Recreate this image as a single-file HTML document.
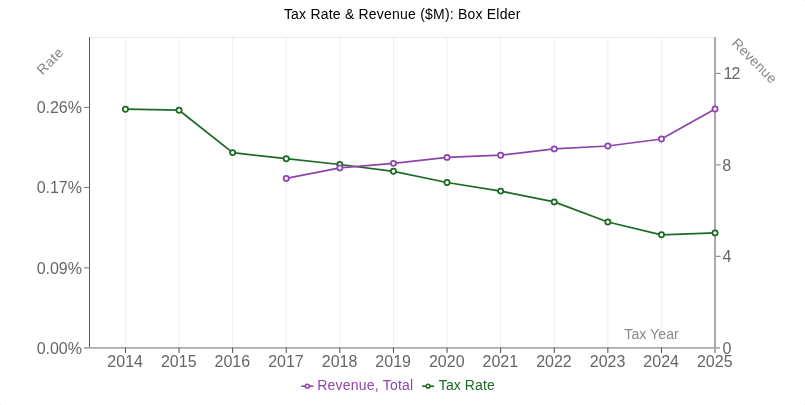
<!DOCTYPE html><html><head><meta charset="utf-8"><title>Tax Rate &amp; Revenue</title>
<style>html,body{margin:0;padding:0;background:#fff}svg{display:block}text{font-family:"Liberation Sans",Arial,sans-serif}</style></head><body>
<svg width="805" height="405" viewBox="0 0 805 405">
<rect width="805" height="405" fill="#fff"/>
<g fill="#f1f1f1"><rect x="0" y="0" width="1" height="1"/><rect x="804" y="0" width="1" height="1"/><rect x="0" y="404" width="1" height="1"/><rect x="804" y="404" width="1" height="1"/></g>
<g stroke="#eeeeee" stroke-width="1">
<line x1="125.45" y1="37.5" x2="125.45" y2="347.9"/>
<line x1="179.05" y1="37.5" x2="179.05" y2="347.9"/>
<line x1="232.65" y1="37.5" x2="232.65" y2="347.9"/>
<line x1="286.25" y1="37.5" x2="286.25" y2="347.9"/>
<line x1="339.85" y1="37.5" x2="339.85" y2="347.9"/>
<line x1="393.45" y1="37.5" x2="393.45" y2="347.9"/>
<line x1="447.05" y1="37.5" x2="447.05" y2="347.9"/>
<line x1="500.65" y1="37.5" x2="500.65" y2="347.9"/>
<line x1="554.25" y1="37.5" x2="554.25" y2="347.9"/>
<line x1="607.85" y1="37.5" x2="607.85" y2="347.9"/>
<line x1="661.45" y1="37.5" x2="661.45" y2="347.9"/>
<line x1="715.05" y1="37.5" x2="715.05" y2="347.9"/>
<line x1="89.5" y1="37.5" x2="715" y2="37.5" stroke="#ebebeb"/>
</g>
<line x1="89.5" y1="37.3" x2="89.5" y2="347.9" stroke="#575757" stroke-width="1"/>
<line x1="715" y1="37.3" x2="715" y2="352.9" stroke="#aaa" stroke-width="2"/>
<line x1="84.0" y1="347.9" x2="720" y2="347.9" stroke="#aaa" stroke-width="1.7"/>
<g stroke="#777" stroke-width="1">
<line x1="84.0" y1="107.4" x2="89.5" y2="107.4"/>
<line x1="84.0" y1="187.5" x2="89.5" y2="187.5"/>
<line x1="84.0" y1="267.8" x2="89.5" y2="267.8"/>
<line x1="716" y1="73.4" x2="720.5" y2="73.4"/>
<line x1="716" y1="164.9" x2="720.5" y2="164.9"/>
<line x1="716" y1="256.3" x2="720.5" y2="256.3"/>
</g>
<g stroke="#444" stroke-width="1">
<line x1="125.45" y1="347.9" x2="125.45" y2="352.9"/>
<line x1="179.05" y1="347.9" x2="179.05" y2="352.9"/>
<line x1="232.65" y1="347.9" x2="232.65" y2="352.9"/>
<line x1="286.25" y1="347.9" x2="286.25" y2="352.9"/>
<line x1="339.85" y1="347.9" x2="339.85" y2="352.9"/>
<line x1="393.45" y1="347.9" x2="393.45" y2="352.9"/>
<line x1="447.05" y1="347.9" x2="447.05" y2="352.9"/>
<line x1="500.65" y1="347.9" x2="500.65" y2="352.9"/>
<line x1="554.25" y1="347.9" x2="554.25" y2="352.9"/>
<line x1="607.85" y1="347.9" x2="607.85" y2="352.9"/>
<line x1="661.45" y1="347.9" x2="661.45" y2="352.9"/>
</g>
<g font-size="16" fill="#666">
<text x="82" y="113" text-anchor="end">0.26%</text>
<text x="82" y="193" text-anchor="end">0.17%</text>
<text x="82" y="274" text-anchor="end">0.09%</text>
<text x="82" y="354" text-anchor="end">0.00%</text>
<text x="723.4" y="79" textLength="17.0" lengthAdjust="spacing">12</text>
<text x="722.3" y="171">8</text>
<text x="722.4" y="262">4</text>
<text x="722.4" y="354">0</text>
<text x="125.15" y="367" text-anchor="middle">2014</text>
<text x="178.75" y="367" text-anchor="middle">2015</text>
<text x="232.35" y="367" text-anchor="middle">2016</text>
<text x="285.95" y="367" text-anchor="middle">2017</text>
<text x="339.55" y="367" text-anchor="middle">2018</text>
<text x="393.15" y="367" text-anchor="middle">2019</text>
<text x="446.75" y="367" text-anchor="middle">2020</text>
<text x="500.35" y="367" text-anchor="middle">2021</text>
<text x="553.95" y="367" text-anchor="middle">2022</text>
<text x="607.55" y="367" text-anchor="middle">2023</text>
<text x="661.15" y="367" text-anchor="middle">2024</text>
<text x="714.75" y="367" text-anchor="middle">2025</text>
</g>
<g font-size="14" fill="#888">
<text transform="translate(42.4,75.4) rotate(-45)" textLength="31.1" lengthAdjust="spacing">Rate</text>
<text transform="translate(730.9,43.9) rotate(45)" textLength="57.1" lengthAdjust="spacing">Revenue</text>
<text x="624.3" y="338.8" textLength="54.4" lengthAdjust="spacing">Tax Year</text>
</g>
<text x="402.1" y="18.7" font-size="14" fill="#000" text-anchor="middle" textLength="236.4" lengthAdjust="spacing">Tax Rate &amp; Revenue ($M): Box Elder</text>
<polyline fill="none" stroke="#1b6b24" stroke-width="1.75" stroke-linejoin="round" points="125.45,109.15 179.05,110.20 232.65,152.60 286.25,158.70 339.85,164.50 393.45,171.30 447.05,182.50 500.65,191.10 554.25,201.90 607.85,222.00 661.45,234.80 715.05,232.90"/>
<circle cx="125.45" cy="109.15" r="2.6" fill="#fff" stroke="#1b6b24" stroke-width="1.75"/>
<circle cx="179.05" cy="110.20" r="2.6" fill="#fff" stroke="#1b6b24" stroke-width="1.75"/>
<circle cx="232.65" cy="152.60" r="2.6" fill="#fff" stroke="#1b6b24" stroke-width="1.75"/>
<circle cx="286.25" cy="158.70" r="2.6" fill="#fff" stroke="#1b6b24" stroke-width="1.75"/>
<circle cx="339.85" cy="164.50" r="2.6" fill="#fff" stroke="#1b6b24" stroke-width="1.75"/>
<circle cx="393.45" cy="171.30" r="2.6" fill="#fff" stroke="#1b6b24" stroke-width="1.75"/>
<circle cx="447.05" cy="182.50" r="2.6" fill="#fff" stroke="#1b6b24" stroke-width="1.75"/>
<circle cx="500.65" cy="191.10" r="2.6" fill="#fff" stroke="#1b6b24" stroke-width="1.75"/>
<circle cx="554.25" cy="201.90" r="2.6" fill="#fff" stroke="#1b6b24" stroke-width="1.75"/>
<circle cx="607.85" cy="222.00" r="2.6" fill="#fff" stroke="#1b6b24" stroke-width="1.75"/>
<circle cx="661.45" cy="234.80" r="2.6" fill="#fff" stroke="#1b6b24" stroke-width="1.75"/>
<circle cx="715.05" cy="232.90" r="2.6" fill="#fff" stroke="#1b6b24" stroke-width="1.75"/>
<polyline fill="none" stroke="#8e44ad" stroke-width="1.75" stroke-linejoin="round" points="286.25,178.40 339.85,167.90 393.45,163.35 447.05,157.40 500.65,155.20 554.25,148.90 607.85,146.00 661.45,139.00 715.05,108.90"/>
<circle cx="286.25" cy="178.40" r="2.6" fill="#fff" stroke="#8e44ad" stroke-width="1.75"/>
<circle cx="339.85" cy="167.90" r="2.6" fill="#fff" stroke="#8e44ad" stroke-width="1.75"/>
<circle cx="393.45" cy="163.35" r="2.6" fill="#fff" stroke="#8e44ad" stroke-width="1.75"/>
<circle cx="447.05" cy="157.40" r="2.6" fill="#fff" stroke="#8e44ad" stroke-width="1.75"/>
<circle cx="500.65" cy="155.20" r="2.6" fill="#fff" stroke="#8e44ad" stroke-width="1.75"/>
<circle cx="554.25" cy="148.90" r="2.6" fill="#fff" stroke="#8e44ad" stroke-width="1.75"/>
<circle cx="607.85" cy="146.00" r="2.6" fill="#fff" stroke="#8e44ad" stroke-width="1.75"/>
<circle cx="661.45" cy="139.00" r="2.6" fill="#fff" stroke="#8e44ad" stroke-width="1.75"/>
<circle cx="715.05" cy="108.90" r="2.6" fill="#fff" stroke="#8e44ad" stroke-width="1.75"/>
<line x1="301.3" y1="386.2" x2="313.3" y2="386.2" stroke="#8e44ad" stroke-width="1.6"/>
<circle cx="307.3" cy="386.2" r="1.9" fill="#fff" stroke="#8e44ad" stroke-width="1.5"/>
<text x="317.2" y="389.8" font-size="14" fill="#8e44ad" textLength="96.0" lengthAdjust="spacing">Revenue, Total</text>
<line x1="422.1" y1="386.2" x2="434.1" y2="386.2" stroke="#1b6b24" stroke-width="1.6"/>
<circle cx="428.1" cy="386.2" r="1.9" fill="#fff" stroke="#1b6b24" stroke-width="1.5"/>
<text x="438.8" y="389.8" font-size="14" fill="#1b6b24" textLength="55.9" lengthAdjust="spacing">Tax Rate</text>
</svg></body></html>
